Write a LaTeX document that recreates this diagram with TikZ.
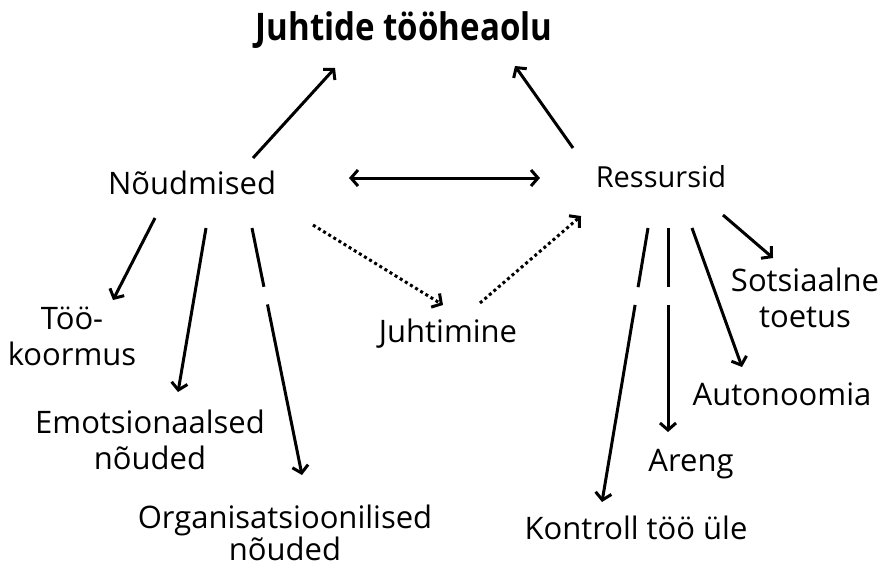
\documentclass[tikz,border=0pt]{standalone}
\usepackage{fontspec}
\setmainfont{Open Sans}
\newfontfamily\headfont{Open Sans}[FakeStretch=0.87]
\usepackage{tikz}
\usetikzlibrary{arrows.meta,positioning}

\begin{document}
\begin{tikzpicture}[
    x=1pt, y=-1pt,
    term/.style={align=center, inner sep=0pt, font=\fontsize{31}{36}\selectfont},
    arrow/.style={-{Straight Barb[length=7pt, width=16pt]}, line width=3pt},
    twoway/.style={{Straight Barb[length=7pt, width=16pt]}-{Straight Barb[length=7pt, width=16pt]}, line width=3pt},
    dotarrow/.style={arrow, dash pattern=on 3pt off 3pt},
    broken/.style={dash pattern=on #1pt off 18pt on 600pt}
]
\useasboundingbox (0,0) rectangle (881,568);
\node[inner sep=0pt, font=\headfont\bfseries\fontsize{38}{44}\selectfont] (title) at (404,30) {Juhtide tööheaolu};
\node[term] (nou) at (192,183) {Nõudmised};
\node[term, font=\fontsize{29}{34}\selectfont] (res) at (661,177) {Ressursid};
\node[term] (juht) at (448,334) {Juhtimine};
\node[term] (too) at (72,336) {Töö-\\koormus};
\node[term] (emo) at (150,440) {Emotsionaalsed\\nõuded};
\node[term, font=\fontsize{31}{32}\selectfont] (org) at (285,533) {Organisatsioonilised\\nõuded};
\node[term] (sots) at (805,298) {Sotsiaalne\\toetus};
\node[term] (auto) at (782,394) {Autonoomia};
\node[term] (areng) at (691,464) {Areng};
\node[term] (kontroll) at (636,528) {Kontroll töö üle};
% main links
\draw[arrow] ([shift={(61,-25)}]nou.center) -- ([shift={(-69,38)}]title.center);
\draw[arrow] ([shift={(-88,-29)}]res.center) -- ([shift={(111,36)}]title.center);
\draw[twoway] ([shift={(157,-5)}]nou.center) -- ([shift={(-121,1)}]res.center);
% through leadership
\draw[dotarrow] ([shift={(121,42)}]nou.center) -- ([shift={(-5,-29)}]juht.center);
\draw[dotarrow] ([shift={(32,-31)}]juht.center) -- ([shift={(-80,39)}]res.center);
% demands
\draw[arrow] ([shift={(-37,35)}]nou.center) -- ([shift={(41,-36)}]too.center);
\draw[arrow] ([shift={(14,45)}]nou.center) -- ([shift={(28,-48)}]emo.center);
\draw[arrow, broken=60] ([shift={(60,45)}]nou.center) -- ([shift={(17,-58)}]org.center);
% resources
\draw[arrow, broken=60] ([shift={(-13,51)}]res.center) -- ([shift={(-34,-26)}]kontroll.center);
\draw[arrow, broken=59] ([shift={(7,51)}]res.center) -- ([shift={(-23,-32)}]areng.center);
\draw[arrow] ([shift={(31,51)}]res.center) -- ([shift={(-40,-27)}]auto.center);
\draw[arrow] ([shift={(62,38)}]res.center) -- ([shift={(-32,-40)}]sots.center);
\end{tikzpicture}
\end{document}
